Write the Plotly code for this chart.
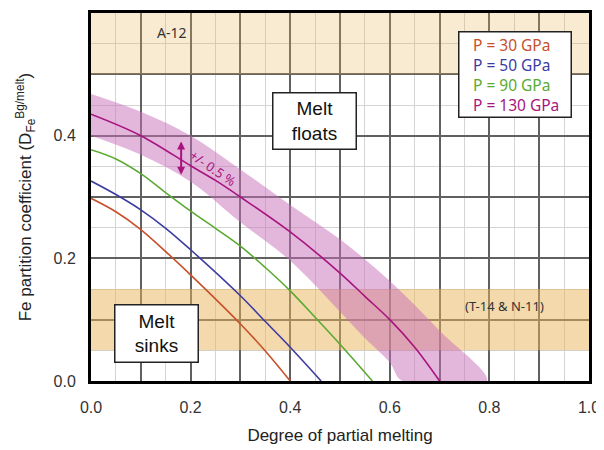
import plotly.graph_objects as go

# ---- data ----
x_30 = [0.0, 0.05, 0.1, 0.15, 0.2, 0.3, 0.35, 0.40]
y_30 = [0.298, 0.276, 0.247, 0.211, 0.173, 0.093, 0.049, 0.0]

x_50 = [0.0, 0.05, 0.1, 0.15, 0.2, 0.3, 0.35, 0.4, 0.462]
y_50 = [0.326, 0.304, 0.279, 0.249, 0.214, 0.139, 0.097, 0.055, 0.0]

x_90 = [0.0, 0.05, 0.1, 0.15, 0.2, 0.25, 0.3, 0.35, 0.4, 0.45, 0.5, 0.565]
y_90 = [0.377, 0.362, 0.338, 0.307, 0.277, 0.249, 0.220, 0.185, 0.147, 0.104, 0.060, 0.0]

x_130 = [0.0, 0.1, 0.2, 0.25, 0.3, 0.4, 0.5, 0.55, 0.6, 0.65, 0.70]
y_130 = [0.435, 0.400, 0.351, 0.327, 0.300, 0.243, 0.176, 0.138, 0.100, 0.055, 0.0]

band_up_x = [0.0, 0.1, 0.2, 0.3, 0.4, 0.5, 0.6, 0.7, 0.795]
band_up_y = [0.468, 0.439, 0.400, 0.345, 0.287, 0.231, 0.163, 0.082, 0.0]
band_lo_x = [0.0, 0.1, 0.2, 0.3, 0.4, 0.5, 0.55, 0.6, 0.625]
band_lo_y = [0.400, 0.369, 0.325, 0.259, 0.196, 0.113, 0.070, 0.030, 0.0]

float_band = [0.5, 0.6]      # A-12
sink_band = [0.05, 0.15]     # T-14 & N-11

x_tickvals = [0.0, 0.1, 0.2, 0.3, 0.4, 0.5, 0.6, 0.7, 0.8, 0.9, 1.0]
x_ticktext = ["0.0", "", "0.2", "", "0.4", "", "0.6", "", "0.8", "", "1.0"]
y_tickvals = [0.0, 0.1, 0.2, 0.3, 0.4, 0.5, 0.6]
y_ticktext = ["0.0", "", "0.2", "", "0.4", "", "0.6"]

series_names = ["P = 30 GPa", "P = 50 GPa", "P = 90 GPa", "P = 130 GPa"]
colors = ["#c8502a", "#3c3ca0", "#5aaa32", "#a8147f"]

fig = go.Figure()

# uncertainty band
fig.add_trace(go.Scatter(
    x=band_up_x + band_lo_x[::-1],
    y=band_up_y + band_lo_y[::-1],
    fill="toself", fillcolor="rgba(200,110,185,0.5)",
    line=dict(width=0, shape="spline", smoothing=1.0), mode="lines",
    hoverinfo="skip", showlegend=False))

for xs, ys, c, n in zip([x_30, x_50, x_90, x_130], [y_30, y_50, y_90, y_130], colors, series_names):
    fig.add_trace(go.Scatter(x=xs, y=ys, mode="lines", name=n,
                             line=dict(color=c, width=1.6, shape="spline", smoothing=1.0),
                             showlegend=False))

tan = "rgba(232,180,90,{})"
fig.add_shape(type="rect", xref="x", yref="y", x0=0, x1=1, y0=float_band[0], y1=float_band[1],
              fillcolor=tan.format(0.27), line=dict(width=0), layer="between")
fig.add_shape(type="rect", xref="x", yref="y", x0=0, x1=1, y0=sink_band[0], y1=sink_band[1],
              fillcolor=tan.format(0.5), line=dict(width=0), layer="between")

lab_font = "Noto Sans, Lato, sans-serif"

fig.add_annotation(x=0.162, y=0.569, text="A-12", showarrow=False,
                   font=dict(family=lab_font, size=14, color="#333"))
fig.add_annotation(x=0.831, y=0.122, text="(T-14 &amp; N-11)", showarrow=False,
                   font=dict(family=lab_font, size=13, color="#333"))

# legend box (opaque white box + coloured text on top)
fig.add_annotation(x=0.851, y=0.4997, text=" ", showarrow=False, bgcolor="white",
                   bordercolor="#222", borderwidth=1.5, borderpad=0, width=111, height=84)
legend_text = "<br>".join(
    f"<span style='color:{c}'>{n}</span>" for n, c in zip(series_names, colors))
fig.add_annotation(x=0.764, y=0.4997, xanchor="left", text=legend_text, showarrow=False,
                   align="left", font=dict(family=lab_font, size=15.5))

fig.add_annotation(x=0.449, y=0.4246, text="Melt<br>floats", showarrow=False,
                   font=dict(family="Liberation Sans, Arial", size=19, color="#111"),
                   bgcolor="white", bordercolor="#222", borderwidth=1.5,
                   width=80, height=53)
fig.add_annotation(x=0.131, y=0.078, text="Melt<br>sinks", showarrow=False,
                   font=dict(family="Liberation Sans, Arial", size=19, color="#111"),
                   bgcolor="white", bordercolor="#222", borderwidth=1.5,
                   width=80, height=54)

fig.add_annotation(x=0.245, y=0.348, text="+/- 0.5 %", showarrow=False, textangle=34,
                   font=dict(family=lab_font, size=13, color=colors[3]))
fig.add_annotation(x=0.181, y=0.3905, ax=0.181, ay=0.334, xref="x", yref="y",
                   axref="x", ayref="y", text="", showarrow=True,
                   arrowhead=2, startarrowhead=2, arrowside="end+start",
                   arrowsize=0.8, startarrowsize=0.8, arrowwidth=2, arrowcolor=colors[3])

axis_common = dict(
    showline=True, linecolor="black", linewidth=3, mirror=True,
    showgrid=True, gridcolor="#606060", gridwidth=1.5,
    zeroline=False, ticks="", tickmode="array", automargin=False,
    tickfont=dict(family="Liberation Sans, Arial", size=16, color="#333"),
    minor=dict(dtick=0.05, tick0=0, showgrid=True, gridcolor="#d4d4d4", gridwidth=1),
)

fig.update_xaxes(range=[0, 1], tickvals=x_tickvals, ticktext=x_ticktext,
                 ticklabelstandoff=10,
                 title=dict(text="Degree of partial melting", standoff=14,
                            font=dict(family="Liberation Sans, Arial", size=17, color="#222")),
                 **axis_common)
fig.update_yaxes(range=[0, 0.6], tickvals=y_tickvals, ticktext=y_ticktext,
                 ticklabelstandoff=9,
                 title=dict(text="Fe partition coefficient (D<sub>Fe</sub><sup>Bg/melt</sup>)", standoff=18,
                            font=dict(family="Liberation Sans, Arial", size=17, color="#222")),
                 **axis_common)

# page has an 8px body margin, so the figure is sized/margined to compensate
fig.update_layout(width=596, height=442, margin=dict(l=83, r=15, t=5, b=69),
                  plot_bgcolor="white", paper_bgcolor="white", showlegend=False)

fig.write_html("out.html")
